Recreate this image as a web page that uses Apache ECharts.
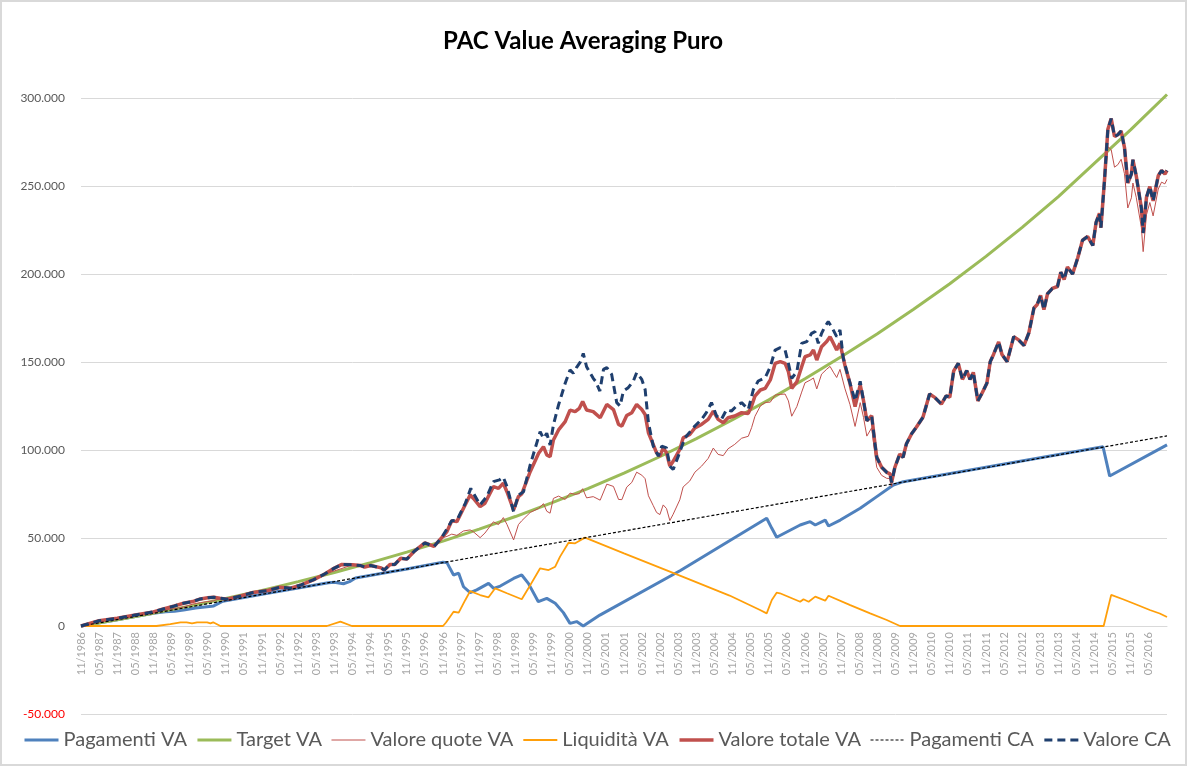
<!DOCTYPE html>
<html>
<head>
<meta charset="utf-8">
<script src="https://cdn.jsdelivr.net/npm/echarts@6/dist/echarts.min.js"></script>
<style>
html,body{margin:0;padding:0;background:#fff;}
#chart{width:1187px;height:766px;box-sizing:border-box;border:2px solid #D9D9D9;}
</style>
</head>
<body>
<div id="chart"></div>
<script>
// Month index 0 = 11/1986, one step per month; values in thousands of euro.
const startYear = 1986, startMonth = 11;
const yTicks = [-50, 0, 50, 100, 150, 200, 250, 300];

const pagamentiVA = [[0,0],[12,3.6],[24,7.2],[28,8.1],[31,8.4],[34,9.1],[38,10.2],[44,11.4],[47,14.1],[60,18],[72,21.6],[82,24.6],[84,24.9],[87,24],[89,25.2],[91,27.3],[108,32.4],[120,36.3],[121.3,36],[123.5,29],[125.2,30],[126.8,22.3],[129,18.9],[131.2,20.5],[135.1,24.2],[136.8,21.4],[139,22.7],[143.4,27],[146.1,29],[148.3,24.2],[151.6,13.8],[154.4,15.7],[157.2,12.9],[159.9,7.6],[162.1,1.5],[164.3,2.5],[166.5,0],[172,6.2],[198.7,31.5],[227.3,61.2],[229,55.5],[230.6,50.4],[238.4,57.4],[241.7,59.3],[243.4,57.4],[246.7,60.2],[247.8,56.8],[251.7,60.2],[258.3,66.9],[263.8,73.5],[269.3,80.1],[272.6,82],[300,90.2],[338.8,101.8],[341,85.2],[360,102.9]];

const targetVA = [[0,0],[12,3.5],[24,7.3],[36,11.3],[48,15.6],[60,20.2],[72,25.2],[84,30.4],[96,36],[108,42],[120,48.2],[132,55],[144,62.2],[156,70],[168,78],[180,86.8],[192,96.3],[204,106.5],[216,117.2],[228,128.5],[240,140.5],[252,153],[264,166],[276,180],[288,194.5],[300,210],[312,226.5],[324,244],[336,263],[348,282],[360,302]];

const quoteVA = [[0,0],[6,3],[12,4.4],[18,6.2],[24,8],[27,8.9],[31,9.9],[34,10.8],[37,12.4],[39.6,13.3],[42,13.9],[44,14.3],[46,15.6],[48.5,15.2],[53,17.1],[57,19],[62,20.2],[66,22],[69.5,21.5],[73,23.4],[77,26.2],[80.5,29.3],[84,31.3],[86.5,32.7],[90,34.8],[92.5,34.4],[94,33.5],[96,34.4],[99.5,33],[100.5,31.8],[102.5,35],[104,34.9],[106,38.5],[108,38],[110.5,42.5],[114,47.2],[117,45.2],[119.5,50],[121.3,50.9],[122.9,52.2],[124.6,51.5],[126.8,54],[129,54.6],[130.1,53.5],[132.3,50.2],[133.9,52.8],[136.7,59.2],[138.4,57.6],[140,61.6],[141.2,57.7],[143.4,48.9],[145,57.6],[146.1,59.8],[148.9,64.5],[151.7,66.8],[153.3,69.5],[154.4,65.2],[155.5,64.1],[156.6,72.5],[158.3,73.8],[160.5,71.9],[162.1,75.5],[163.8,74.8],[165.2,75.2],[166.3,78],[167.6,72.8],[169.8,73.5],[172.1,71.5],[174.3,80.6],[176.5,79.3],[178.2,71.9],[179.3,71.8],[180.9,78.9],[182.6,81.6],[184.2,87.4],[185.9,85.7],[187,83.7],[188.1,74],[189.7,68.4],[190.8,64.5],[191.9,63.3],[193,68.8],[194.1,66.7],[195.2,59.9],[196.3,63.5],[198.5,71.7],[199.6,79],[201.8,82.4],[203.5,87.4],[205.7,90.8],[207.9,95.2],[209.6,101.1],[211.2,97.5],[212.9,96.8],[214.5,100.7],[216.7,103.2],[219,106.7],[221.2,107.8],[222.3,112.7],[223.4,119.1],[225.2,125],[226.8,127],[228.5,127.2],[230.1,131.2],[231.8,131.6],[233.4,131.8],[234.5,127.9],[235.6,119.2],[237.3,124.7],[238.9,132.9],[240,138.2],[241.7,139.7],[242.8,140.9],[243.9,134.7],[245.5,143.1],[247.2,145.9],[248.3,147.5],[249.4,144.2],[250.5,141.2],[251.6,145.8],[253.2,135.1],[254.9,125.9],[256.6,113.4],[258.3,126.9],[259.4,118.5],[260.5,107.9],[262.1,112.6],[263.2,97.3],[263.8,90.1],[265.4,85.6],[267.1,83.9],[268.2,83.8],[268.7,79.4],[269.8,88.7],[271.4,97.6],[272.5,95.8],[273.6,103.4],[275.3,109.1],[276.9,112.9],[279.1,118.6],[281.3,131.8],[283,129.9],[285.2,126.1],[286.8,130.8],[288,130],[289.3,145],[290.8,149.2],[292.2,140.1],[293.6,145.1],[294.7,140.1],[295.8,144.1],[297.3,127.9],[298.6,132],[300.3,138],[301.4,150.2],[302.5,154.3],[304.2,161.4],[305.3,154.3],[307,150.2],[309.2,164.4],[310.9,162.4],[312.6,159.4],[314.2,166.5],[315.9,180.7],[317,182.7],[318.1,187.8],[319.2,179.7],[320.4,188.8],[322,191.8],[323.7,192.9],[324.8,201],[325.9,196.9],[327,204],[328.7,200],[330.4,209.1],[332,219.2],[333.7,221.3],[335.4,216.2],[336.5,229.4],[337.6,234.5],[338.1,226.3],[339.3,253.8],[340.4,272.3],[341.5,270.6],[342.6,260.7],[343.7,262.1],[344.8,265.2],[345.9,257],[347,237.5],[348.2,243.3],[348.7,251.7],[349.8,243.6],[351.5,226.5],[352.1,212.7],[353.2,233.7],[354.3,240.6],[355.4,233],[357.1,248.3],[358.2,252.2],[359.3,251.2],[360,253.7]];

const liquiditaVA = [[0,0],[25,0],[29.6,1.1],[33,2.1],[35,2.1],[36.8,1.5],[38.5,2.1],[41.8,2.1],[42.9,1.5],[43.8,2.1],[46.2,0],[81.5,0],[86,2.5],[89.8,0],[120,0],[121,2],[123.5,8.1],[125.2,7.6],[127.4,14.8],[129,19.8],[132.3,17.6],[135.1,16.3],[137.3,21.4],[141.2,18.6],[146.1,15.2],[148.3,21.4],[152.2,32.8],[155,31.8],[157.2,33.7],[158.8,39.4],[161.6,47.3],[163.8,47],[166,49.2],[167.1,50.2],[180,41.3],[200,27.6],[215,17.3],[225.1,9.1],[227.3,7.2],[229,14.8],[230.6,18.9],[231.7,18.6],[238.4,13.8],[239.5,15.2],[241.2,13.8],[243.4,16.7],[246.7,14.4],[247.8,17.2],[255,11.9],[261.6,7.2],[267.1,3.4],[271.5,0],[339,0],[341.5,17.7],[345.4,15.2],[349.8,12.2],[354.3,9.1],[357.6,7.1],[360,5.1]];

const totaleVA = [[0,0],[6,3],[12,4.4],[18,6.2],[24,8],[27,9.5],[31,11.4],[34,12.9],[37,13.9],[39.6,15.4],[42,16],[44,16.3],[46,15.8],[48.5,15.2],[53,17.1],[57,19],[62,20.2],[66,22],[69.5,21.5],[73,23.4],[77,26.2],[80.5,29.3],[84,32.9],[86.5,35],[90,34.8],[92.5,34.4],[94,33.5],[96,34.4],[99.5,33],[100.5,31.8],[102.5,35],[104,34.9],[106,38.5],[108,38],[110.5,42.5],[114,47.2],[117,45.2],[119.5,50],[121.3,53.6],[122.9,59.8],[124.6,59.3],[126.8,66.9],[129,74.4],[130.1,72.5],[132.3,67.8],[133.9,69.7],[136.7,79.2],[138.4,78.2],[140,81.1],[141.2,76.3],[143.4,65.9],[145,73.5],[146.1,75],[148.9,87.7],[151.7,98.1],[153.3,101.9],[154.4,97.2],[155.5,96.2],[156.6,105.7],[158.3,111.4],[160.5,116.1],[162.1,122.7],[163.8,121.8],[165.2,123.7],[166.3,127.5],[167.6,122.7],[169.8,121.8],[172.1,118.3],[174.3,125.9],[176.5,123],[178.2,114.5],[179.3,113.6],[180.9,119.6],[182.6,121.2],[184.2,125.9],[185.9,123],[187,120.2],[188.1,109.8],[189.7,103.1],[190.8,98.4],[191.9,96.5],[193,101.2],[194.1,98.4],[195.2,90.8],[196.3,93.6],[198.5,100.3],[199.6,106.9],[201.8,108.8],[203.5,112.6],[205.7,114.5],[207.9,117.4],[209.6,122.1],[211.2,117.4],[212.9,115.5],[214.5,118.3],[216.7,119.3],[219,121.2],[221.2,120.8],[222.3,125],[223.4,130.6],[225.2,134.1],[226.8,135],[228.5,139.8],[230.1,149.2],[231.8,150.2],[233.4,149.2],[234.5,144.5],[235.6,135],[237.3,138.8],[238.9,147.3],[240,153],[241.7,154],[242.8,156.8],[243.9,151.1],[245.5,158.7],[247.2,161.6],[248.3,164.4],[249.4,160.6],[250.5,156.8],[251.6,160.6],[253.2,148.3],[254.9,137.9],[256.6,124.6],[258.3,137],[259.4,128],[260.5,116.6],[262.1,119.5],[263.2,103.4],[263.8,95.8],[265.4,90.2],[267.1,87.3],[268.2,86.4],[268.7,81.6],[269.8,90.2],[271.4,97.7],[272.5,95.8],[273.6,103.4],[275.3,109.1],[276.9,112.9],[279.1,118.6],[281.3,131.8],[283,129.9],[285.2,126.1],[286.8,130.8],[288,130],[289.3,145],[290.8,149.2],[292.2,140.1],[293.6,145.1],[294.7,140.1],[295.8,144.1],[297.3,127.9],[298.6,132],[300.3,138],[301.4,150.2],[302.5,154.3],[304.2,161.4],[305.3,154.3],[307,150.2],[309.2,164.4],[310.9,162.4],[312.6,159.4],[314.2,166.5],[315.9,180.7],[317,182.7],[318.1,187.8],[319.2,179.7],[320.4,188.8],[322,191.8],[323.7,192.9],[324.8,201],[325.9,196.9],[327,204],[328.7,200],[330.4,209.1],[332,219.2],[333.7,221.3],[335.4,216.2],[336.5,229.4],[337.6,234.5],[338.1,226.3],[339.3,253.8],[340.4,282.2],[341.5,288.3],[342.6,278.1],[343.7,279.1],[344.8,281.2],[345.9,272],[347,251.7],[348.2,256.8],[348.7,264.9],[349.8,255.8],[351.5,237.5],[352.1,223.3],[353.2,243.6],[354.3,249.7],[355.4,241.6],[357.1,255.8],[358.2,258.8],[359.3,256.8],[360,258.8]];

const pagamentiCA = [[0,0],[120,36],[240,72],[360,108]];

const valoreCA = [[0,0],[6,3],[12,4.4],[18,6.2],[24,8],[27,9.5],[31,11.4],[34,12.9],[37,13.9],[39.6,15.4],[42,16],[44,16.3],[46,15.8],[48.5,15.2],[53,17.1],[57,19],[62,20.2],[66,22],[69.5,21.5],[73,23.4],[77,26.2],[80.5,29.3],[84,32.9],[86.5,35],[90,34.8],[92.5,34.4],[94,33.5],[96,34.4],[99.5,33],[100.5,31.8],[102.5,35],[104,34.9],[106,38.5],[108,38],[110.5,42.5],[114,47.2],[117,45.2],[119.5,50],[122.9,59.8],[124.6,60],[127.4,69.7],[129.2,78.2],[130.1,75.4],[132.3,68.8],[134.5,73.5],[136.7,82],[138.7,83],[140,84.5],[141.2,79.2],[143.4,65],[145,74.4],[146.7,76.3],[148.9,91.5],[152.2,110.4],[153.3,106.6],[154.4,109.5],[155.5,102.8],[156.6,114.2],[158.3,125.6],[160.5,137.9],[162.1,145.5],[163.2,143.6],[164.3,147],[165.6,150.2],[166.5,154.9],[167.6,147.3],[169.8,140.7],[170.5,139.2],[172,133.5],[173.2,145.8],[174.3,146.8],[175.9,143],[177.6,126.9],[178.7,125],[179.8,133.5],[181.4,135.4],[183.1,139.2],[184.2,143.9],[185.9,140.1],[187,134.4],[188.1,115.5],[189.7,102.2],[191.4,96.5],[192.5,102.2],[194.1,101.2],[195.2,90.8],[196.3,88.9],[198,96.5],[200.2,106.9],[203.5,113.6],[205.7,117.4],[207.3,121.2],[209,126.9],[210.7,119.3],[212.3,117.4],[214,123],[215.6,122.1],[217.3,125],[219,126.9],[221.2,123],[222.9,134.4],[224.5,139.2],[226.8,141.1],[228.5,147.3],[230.1,156.8],[231.8,158.1],[233.4,156.8],[234.5,149.2],[235.6,140.7],[237.3,144.5],[238.9,160.6],[240.6,161.6],[242.2,166.3],[243.3,167.2],[244.4,160.6],[245.5,166.3],[246.6,170.1],[247.7,172.9],[248.8,170.1],[250.5,164.4],[251.6,168.2],[252.7,152.1],[254.3,141.7],[256.6,128],[258.3,139],[259.4,128],[260.5,116.6],[262.1,119.5],[263.2,103.4],[263.8,95.8],[265.4,90.2],[267.1,87.3],[268.2,86.4],[268.7,81.6],[269.8,90.2],[271.4,97.7],[272.5,95.8],[273.6,103.4],[275.3,109.1],[276.9,112.9],[279.1,118.6],[281.3,131.8],[283,129.9],[285.2,126.1],[286.8,130.8],[288,130],[289.3,145],[290.8,149.2],[292.2,140.1],[293.6,145.1],[294.7,140.1],[295.8,144.1],[297.3,127.9],[298.6,132],[300.3,138],[301.4,150.2],[302.5,154.3],[304.2,161.4],[305.3,154.3],[307,150.2],[309.2,164.4],[310.9,162.4],[312.6,159.4],[314.2,166.5],[315.9,180.7],[317,182.7],[318.1,187.8],[319.2,179.7],[320.4,188.8],[322,191.8],[323.7,192.9],[324.8,201],[325.9,196.9],[327,204],[328.7,200],[330.4,209.1],[332,219.2],[333.7,221.3],[335.4,216.2],[336.5,229.4],[337.6,234.5],[338.1,226.3],[339.3,253.8],[340.4,282.2],[341.5,288.3],[342.6,278.1],[343.7,279.1],[344.8,281.2],[345.9,272],[347,251.7],[348.2,256.8],[348.7,264.9],[349.8,255.8],[351.5,237.5],[352.1,223.3],[353.2,243.6],[354.3,249.7],[355.4,241.6],[357.1,255.8],[358.2,258.8],[359.3,256.8],[360,258.8]];

const seriesNames = ['Pagamenti VA','Target VA','Valore quote VA','Liquidità VA','Valore totale VA','Pagamenti CA','Valore CA'];

function toEuro(arr){ return arr.map(p => [p[0], p[1]*1000]); }
function fmtThousands(v){
  if (v === 0) return '0';
  const neg = v < 0; let s = String(Math.abs(Math.round(v)));
  s = s.replace(/\B(?=(\d{3})+(?!\d))/g, '.');
  return (neg ? '-' : '') + s;
}
function monthLabel(m){
  if (m >= 360) return '';
  const idx = startMonth - 1 + m;
  const mm = idx % 12 + 1, yy = startYear + Math.floor(idx / 12);
  return (mm < 10 ? '0' : '') + mm + '/' + yy;
}

const FONT = 'Lato, "Liberation Sans", sans-serif';
const chart = echarts.init(document.getElementById('chart'), null, {renderer:'canvas'});

const gridTop = 96, gridBottom = 50, gridH = 762 - gridTop - gridBottom;
const zeroOffset = gridH * (0 - yTicks[0]) / (yTicks[yTicks.length-1] - yTicks[0]);

const styles = [
  {color:'#4F81BD', width:3, type:'solid'},
  {color:'#9BBB59', width:3, type:'solid'},
  {color:'#C0504D', width:1, type:'solid'},
  {color:'#FF9F0A', width:1.8, type:'solid'},
  {color:'#C0504D', width:3.5, type:'solid'},
  {color:'#000000', width:1.2, type:[3,2]},
  {color:'#1F3F6E', width:3, type:[8,5]}
];
const dataSets = [pagamentiVA, targetVA, quoteVA, liquiditaVA, totaleVA, pagamentiCA, valoreCA];

chart.setOption({
  animation:false,
  backgroundColor:'#ffffff',
  title:{
    text:'PAC Value Averaging Puro', left:436, top:22,
    textStyle:{fontFamily:FONT, fontSize:24, fontWeight:'bold', color:'#000'}
  },
  legend:{
    top:728, left:21, right:0, padding:0, itemGap:9, itemWidth:34, itemHeight:20,
    data: seriesNames.map((n, i) => ({
      name:n, itemStyle:{opacity:0},
      lineStyle:{width: Math.min(styles[i].width, 3.5), type: styles[i].type, color: styles[i].color}
    })),
    textStyle:{fontFamily:FONT, fontSize:20, color:'#595959'}
  },
  grid:{left:79, right:18, top:gridTop, bottom:gridBottom, containLabel:false},
  xAxis:{
    type:'value', min:0, max:360, interval:6,
    offset:-zeroOffset,
    axisLine:{show:true, onZero:false, lineStyle:{color:'#D9D9D9', width:1}},
    axisTick:{show:false},
    splitLine:{show:false},
    axisLabel:{
      rotate:90, margin:6, fontFamily:FONT, fontSize:11, color:'#A6A6A6',
      formatter: v => monthLabel(v), showMaxLabel:false
    }
  },
  yAxis:{
    type:'value', min:yTicks[0]*1000, max:yTicks[yTicks.length-1]*1000, interval:50000,
    axisLine:{show:false}, axisTick:{show:false},
    splitLine:{lineStyle:{color:'#D9D9D9', width:1}},
    axisLabel:{
      fontFamily:FONT, fontSize:12, color:'#595959', margin:16,
      formatter: v => v < 0 ? '{neg|' + fmtThousands(v) + '}' : fmtThousands(v),
      rich:{neg:{color:'#FF0000', fontFamily:FONT, fontSize:12}}
    }
  },
  series: seriesNames.map((name, i) => ({
    name, type:'line', data: toEuro(dataSets[i]), symbol:'none', showSymbol:false,
    clip:false, smooth:false, z: 2 + i,
    lineStyle:{color: styles[i].color, width: styles[i].width, type: styles[i].type},
    itemStyle:{color: styles[i].color},
    emphasis:{disabled:true}
  }))
});
</script>
</body>
</html>
